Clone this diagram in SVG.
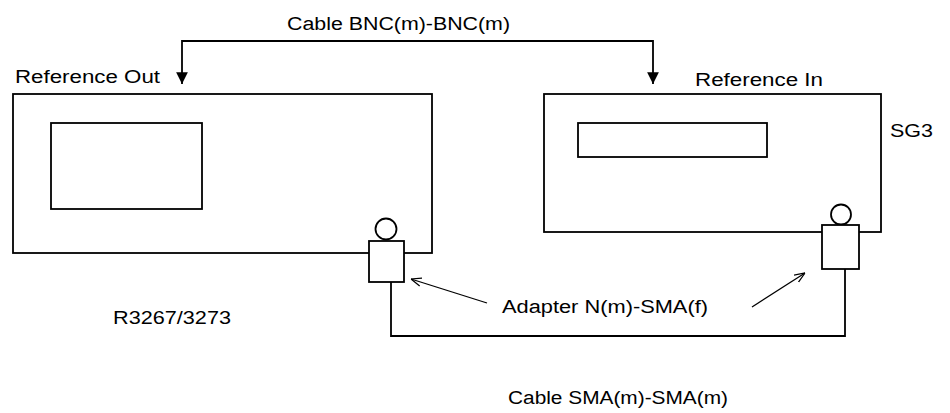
<svg xmlns="http://www.w3.org/2000/svg" width="950" height="413" viewBox="0 0 950 413">
<defs>
<style>
.ln{fill:none;stroke:#000;stroke-width:1.8}
.bx{fill:#fff;stroke:#000;stroke-width:1.8}
.thin{fill:none;stroke:#000;stroke-width:1.3}
text{font-family:"Liberation Sans",Arial,sans-serif;font-size:18px;fill:#000}
</style>
<marker id="fill" viewBox="0 0 10 10" refX="10" refY="5" markerWidth="6.5" markerHeight="6.5" markerUnits="strokeWidth" orient="auto-start-reverse">
<path d="M0,0 L10,5 L0,10 Z" fill="#000"/>
</marker>
<marker id="open" viewBox="0 0 10 10" refX="10" refY="5" markerWidth="8" markerHeight="8" markerUnits="strokeWidth" orient="auto">
<path d="M0,1 L10,5 L0,9" fill="none" stroke="#000" stroke-width="1.2"/>
</marker>
</defs>
<rect width="950" height="413" fill="#fff"/>
<g id="r3267">
<rect class="ln" x="13" y="94" width="419" height="159"/>
<rect class="ln" x="51" y="123" width="151" height="86"/>
<text x="15" y="83" textLength="145" lengthAdjust="spacingAndGlyphs">Reference Out</text>
<text x="113" y="324" textLength="118" lengthAdjust="spacingAndGlyphs">R3267/3273</text>
</g>
<g id="sg3">
<rect class="ln" x="544" y="94" width="337" height="138"/>
<rect class="ln" x="578" y="123" width="189" height="34"/>
<text x="695" y="86" textLength="128" lengthAdjust="spacingAndGlyphs">Reference In</text>
<text x="890" y="137" textLength="43" lengthAdjust="spacingAndGlyphs">SG3</text>
</g>
<g id="connectors">
<polyline class="ln" points="182,84 182,41 653,41 653,84" marker-start="url(#fill)" marker-end="url(#fill)"/>
<polyline class="ln" points="391,282 391,336 845,336 845,269"/>
<line class="thin" x1="487" y1="303" x2="411" y2="279" marker-end="url(#open)"/>
<line class="thin" x1="752" y1="307" x2="805" y2="273" marker-end="url(#open)"/>
</g>
<g id="adapter-left">
<circle class="bx" cx="386" cy="229" r="10.5"/>
<rect class="bx" x="369" y="241" width="35" height="41"/>
</g>
<g id="adapter-right">
<circle class="bx" cx="841" cy="214.5" r="10"/>
<rect class="bx" x="822" y="225" width="37" height="44"/>
</g>
<g id="labels">
<text x="287" y="30" textLength="223" lengthAdjust="spacingAndGlyphs">Cable BNC(m)-BNC(m)</text>
<text x="502" y="313" textLength="206" lengthAdjust="spacingAndGlyphs">Adapter N(m)-SMA(f)</text>
<text x="508" y="404" textLength="220" lengthAdjust="spacingAndGlyphs">Cable SMA(m)-SMA(m)</text>
</g>
</svg>
